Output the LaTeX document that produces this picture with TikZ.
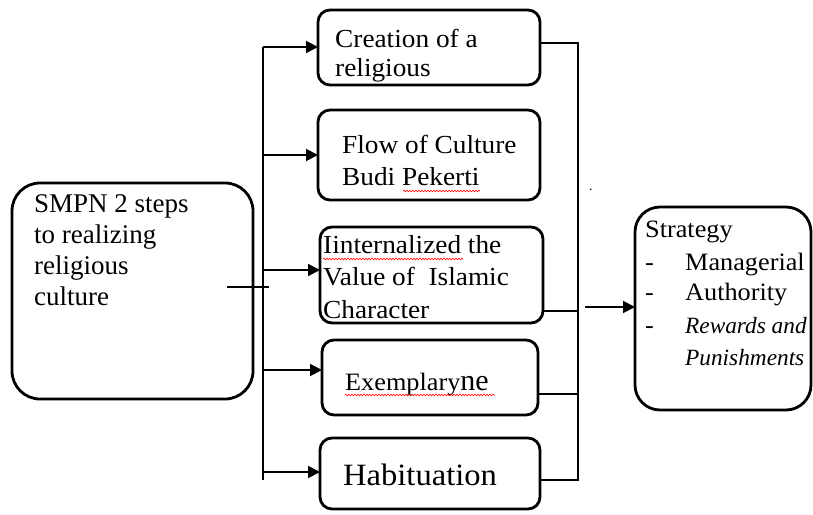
\documentclass[tikz,border=0pt]{standalone}
\usepackage{fontspec}
\setmainfont{Liberation Serif}
\newfontfamily\gd[FakeStretch=1.05]{Liberation Serif}
\newfontfamily\gdi[FakeStretch=1.0]{Liberation Serif Italic}
\usetikzlibrary{arrows.meta,decorations.pathmorphing}
\tikzset{
  box/.style={draw,line width=2.8pt,rounded corners=12pt,inner sep=0pt,outer sep=0pt,anchor=north west},
  conn/.style={line width=1.9pt},
  arr/.style={line width=1.9pt,-{Triangle[length=12pt,width=12pt]}},
  txt/.style={anchor=base west,inner sep=0pt,font=\gd\fontsize{26pt}{30pt}\selectfont},
  sty/.style={txt,font=\gd\fontsize{25pt}{30pt}\selectfont},
  wavy/.style={red,line width=0.6pt,decorate,decoration={snake,segment length=3pt,amplitude=0.8pt}}
}
\begin{document}
\begin{tikzpicture}[x=1pt,y=-1pt]
\useasboundingbox (0,0) rectangle (813,514);
% boxes
\node[box,rounded corners=28pt,minimum width=241pt,minimum height=216pt] (L) at (12,183) {};
\node[box,minimum width=222pt,minimum height=75pt] (c1) at (318,10) {};
\node[box,minimum width=222pt,minimum height=90pt] (c2) at (318,110) {};
\node[box,minimum width=223pt,minimum height=96pt] (c3) at (320,227) {};
\node[box,minimum width=216pt,minimum height=75pt] (c4) at (322,340) {};
\node[box,minimum width=220pt,minimum height=71pt] (c5) at (320,438) {};
\node[box,rounded corners=25pt,minimum width=176pt,minimum height=203pt] (S) at (635,207) {};
% texts
\node[txt,font=\fontsize{27pt}{31pt}\selectfont] (l1) at (34,212) {SMPN 2 steps};
\node[txt,font=\fontsize{27pt}{31pt}\selectfont] (l2) at (34,243) {to realizing};
\node[txt,font=\fontsize{27pt}{31pt}\selectfont] (l3) at (34,274) {religious};
\node[txt,font=\fontsize{27pt}{31pt}\selectfont] (l4) at (34,305) {culture};
\node[txt] (a1) at (335,47) {Creation of a};
\node[txt] (a2) at (335,76) {religious};
\node[txt] (b1) at (342,153) {Flow of Culture};
\node[txt] (b2) at (342,185) {Budi Pekerti};
\node[txt] (d1) at (323,253) {Iinternalized the};
\node[txt] (d2) at (323,285) {Value of\ \ Islamic};
\node[txt] (d3) at (323,318) {Character};
\node[txt,font=\gd\fontsize{25pt}{30pt}\selectfont] (e1) at (345,390) {Exemplary\fontspec{Liberation Serif}\fontsize{30pt}{30pt}\selectfont ne};
\node[txt,font=\gd\fontsize{31pt}{30pt}\selectfont] (h1) at (343,485) {Habituation};
\node[sty] (s1) at (645,237) {Strategy};
\node[sty] (s2) at (645,270) {-};
\node[sty] (s3) at (645,300) {-};
\node[sty] (s4) at (645,333) {-};
\node[sty] (s5) at (685,270) {Managerial};
\node[sty] (s6) at (685,300) {Authority};
\node[txt,font=\gdi\fontsize{23.3pt}{30pt}\selectfont] (s7) at (685,333) {Rewards and};
\node[txt,font=\gdi\fontsize{23.3pt}{30pt}\selectfont] (s8) at (685,365) {Punishments};
\node[txt,font=\fontsize{14pt}{14pt}\selectfont] (dot) at (589,190) {.};
% spell-check marks
\draw[wavy] (403,191) -- (480,191);
\draw[wavy] (323,259) -- (463,259);
\draw[wavy] (345,395) -- (495,395);
% left bus
\coordinate (t) at (227,287);
\coordinate (tt) at (269,287);
\draw[conn] (t) -- (tt);
\coordinate (v1) at (263,47);
\coordinate (v2) at (263,155);
\coordinate (v3) at (263,270);
\coordinate (v4) at (263,370);
\coordinate (v5) at (263,472);
\coordinate (vb) at (263,480);
\draw[conn] (v1) -- (vb);
\draw[arr] (v1) -- (v1 -| c1.west);
\draw[arr] (v2) -- (v2 -| c2.west);
\draw[arr] (v3) -- (v3 -| c3.west);
\draw[arr] (v4) -- (v4 -| c4.west);
\draw[arr] (v5) -- (v5 -| c5.west);
% right bus
\coordinate (r1) at (578,43);
\coordinate (r3) at (578,311);
\coordinate (r4) at (578,394);
\coordinate (r5) at (578,480);
\draw[conn] (r1 -| c1.east) -- (r1) -- (r5) -- (r5 -| c5.east);
\draw[conn] (r3 -| c3.east) -- (r3);
\draw[conn] (r4 -| c4.east) -- (r4);
\coordinate (m) at (585,307);
\draw[arr] (m) -- (m -| S.west);
\end{tikzpicture}
\end{document}
